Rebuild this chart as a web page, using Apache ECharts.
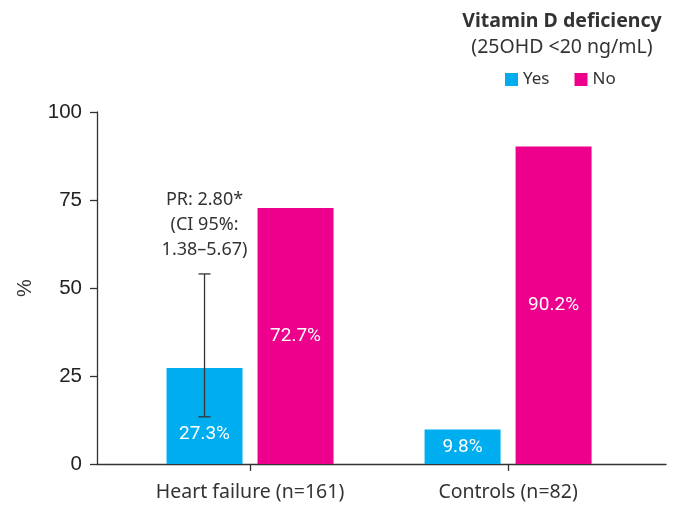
<!DOCTYPE html>
<html>
<head>
<meta charset="utf-8">
<script src="https://cdn.jsdelivr.net/npm/echarts@6/dist/echarts.min.js"></script>
<style>
  html, body { margin: 0; padding: 0; background: #fff; }
  #chart { width: 678px; height: 505px; }
</style>
</head>
<body>
<div id="chart"></div>
<script>
// data
var groups = ['Heart failure (n=161)', 'Controls (n=82)'];
var groupPos = [0, 1];
var yesValues = [27.3, 9.8];
var noValues = [72.7, 90.2];
var yTicks = [0, 25, 50, 75, 100];
// error bar on the heart failure "Yes" bar
var errLow = 13.4;
var errHigh = 54;
var prNote = 'PR: 2.80*\n(CI 95%:\n1.38–5.67)';

var BAR_W = 76, BAR_GAP = 15;
var C_YES = '#00AEEF', C_NO = '#EC008C';
var AX = '#333';

var chart = echarts.init(document.getElementById('chart'));

function pairs(vals) {
  var out = [];
  for (var i = 0; i < vals.length; i++) out.push([groupPos[i], vals[i]]);
  return out;
}

var yesData = pairs(yesValues);
// first label sits lower so it clears the error bar cap
yesData[0] = { value: yesData[0], label: { position: 'insideBottom', distance: 20 } };

var barLabel = {
  show: true,
  position: 'inside',
  color: '#fff',
  fontFamily: 'Roboto',
  fontSize: 19,
  formatter: function (p) { return p.value[1].toFixed(1) + '%'; }
};

var option = {
  animation: false,
  title: {
    text: 'Vitamin D deficiency',
    subtext: '(25OHD <20 ng/mL)',
    left: 557,
    top: 6,
    textAlign: 'center',
    itemGap: 6,
    textStyle: { fontFamily: 'Noto Sans', fontSize: 19.5, fontWeight: 'bold', color: '#333' },
    subtextStyle: { fontFamily: 'Noto Sans', fontSize: 19.5, color: '#333' }
  },
  legend: {
    left: 500,
    top: 66,
    itemWidth: 13,
    itemHeight: 13,
    itemGap: 25,
    icon: 'rect',
    textStyle: { fontFamily: 'Noto Sans', fontSize: 17, color: '#333' },
    data: ['Yes', 'No']
  },
  grid: { left: 97, right: 12, top: 112, bottom: 41, containLabel: false },
  xAxis: {
    type: 'value',
    min: -0.593,
    max: 1.612,
    splitLine: { show: false },
    axisLine: { show: true, lineStyle: { color: AX, width: 1.3 } },
    axisTick: { show: true, customValues: groupPos, length: 7, lineStyle: { color: AX, width: 1.3 } },
    axisLabel: {
      customValues: groupPos,
      margin: 18,
      fontFamily: 'Noto Sans',
      fontSize: 19.5,
      color: '#333',
      formatter: function (v) { return groups[Math.round(v)]; }
    }
  },
  yAxis: {
    type: 'value',
    min: 0,
    max: 100,
    interval: 25,
    name: '%',
    nameLocation: 'middle',
    nameGap: 62,
    nameTextStyle: { fontFamily: 'Liberation Sans', fontSize: 20, color: '#333' },
    splitLine: { show: false },
    axisLine: { show: true, onZero: false, lineStyle: { color: AX, width: 1.3 } },
    axisTick: { show: true, inside: false, length: 7, lineStyle: { color: AX, width: 1.3 } },
    axisLabel: {
      margin: 15,
      fontFamily: 'Liberation Sans',
      fontSize: 20.5,
      color: '#222',
      formatter: function (v) { return yTicks.indexOf(v) >= 0 ? String(v) : ''; }
    }
  },
  series: [
    {
      name: 'Yes',
      type: 'bar',
      barWidth: BAR_W,
      barGap: (BAR_GAP / BAR_W * 100) + '%',
      itemStyle: { color: C_YES },
      label: barLabel,
      data: yesData
    },
    {
      name: 'No',
      type: 'bar',
      barWidth: BAR_W,
      itemStyle: { color: C_NO },
      label: barLabel,
      data: pairs(noValues)
    },
    {
      name: 'err',
      type: 'custom',
      z: 10,
      silent: true,
      renderItem: function (params, api) {
        var top = api.coord([api.value(0), api.value(2)]);
        var bot = api.coord([api.value(0), api.value(1)]);
        var cx = top[0] - (BAR_W + BAR_GAP) / 2;
        var cap = 6;
        var st = { stroke: '#333', lineWidth: 1.3 };
        return {
          type: 'group',
          children: [
            { type: 'line', shape: { x1: cx, y1: top[1], x2: cx, y2: bot[1] }, style: st },
            { type: 'line', shape: { x1: cx - cap, y1: top[1], x2: cx + cap, y2: top[1] }, style: st },
            { type: 'line', shape: { x1: cx - cap, y1: bot[1], x2: cx + cap, y2: bot[1] }, style: st },
            {
              type: 'text',
              x: cx,
              y: top[1] - 12,
              style: {
                text: prNote,
                align: 'center',
                verticalAlign: 'bottom',
                fontFamily: 'Noto Sans',
                fontSize: 18,
                lineHeight: 25,
                fill: '#333'
              }
            }
          ]
        };
      },
      data: [[groupPos[0], errLow, errHigh]]
    }
  ]
};

chart.setOption(option);
</script>
</body>
</html>
